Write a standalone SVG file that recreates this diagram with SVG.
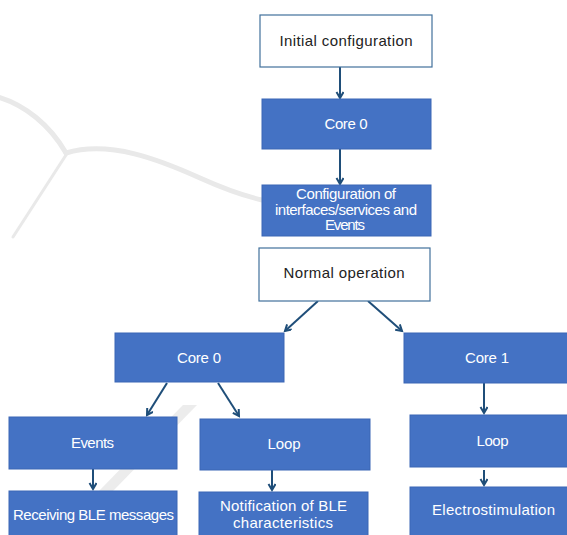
<svg xmlns="http://www.w3.org/2000/svg" width="567" height="535" viewBox="0 0 567 535">
  <defs>
    <style>
      .wml { fill: none; stroke: #e9e9e9; stroke-linecap: round; }
      .box { fill: #4472c4; stroke: #3b66b5; stroke-width: 1; }
      .wbox { fill: #ffffff; stroke: #41719c; stroke-width: 1.2; }
      .t { font-family: "Liberation Sans", Arial, sans-serif; font-size: 15px; text-anchor: middle; fill: #ffffff; }
      .tk { font-family: "Liberation Sans", Arial, sans-serif; font-size: 15px; text-anchor: middle; fill: #222222; }
      .c { fill: none; stroke: #1f4e79; stroke-width: 2; marker-end: url(#arr); }
    </style>
    <marker id="arr" markerUnits="userSpaceOnUse" markerWidth="10" markerHeight="10" refX="7" refY="4" orient="auto">
      <path d="M1,0.5 L7,4 L1,7.5" fill="none" stroke="#1f4e79" stroke-width="2"/>
    </marker>
  </defs>
  <rect width="567" height="535" fill="#ffffff"/>

  <g id="watermark">
    <path class="wml" stroke-width="5" d="M-2,97 C25,105 50,125 66,153"/>
    <path class="wml" stroke-width="5" d="M66,153 C110,140 160,160 200,178 C220,187 240,195 262,200"/>
    <path class="wml" stroke-width="3" d="M66,155 L13,237"/>
    <path d="M183,405 L197,405 L70,535 L56,535 Z" fill="#ececec"/>
  </g>

  <g id="connectors">
    <line class="c" x1="340" y1="67" x2="340" y2="98"/>
    <line class="c" x1="340" y1="149" x2="340" y2="184"/>
    <line class="c" x1="318" y1="301" x2="285" y2="331"/>
    <line class="c" x1="368" y1="301" x2="402" y2="331"/>
    <line class="c" x1="167" y1="383" x2="147" y2="415"/>
    <line class="c" x1="218" y1="383" x2="239" y2="416"/>
    <line class="c" x1="93" y1="469" x2="93" y2="489"/>
    <line class="c" x1="272" y1="470" x2="272" y2="490"/>
    <line class="c" x1="484" y1="383" x2="484" y2="413"/>
    <line class="c" x1="484" y1="470" x2="484" y2="485"/>
  </g>

  <g id="initial">
    <rect class="wbox" x="260" y="15" width="172" height="52"/>
    <text class="tk" x="346" y="46" textLength="133">Initial configuration</text>
  </g>
  <g id="core0-top">
    <rect class="box" x="262" y="99" width="169" height="50"/>
    <text class="t" x="346" y="129" textLength="43">Core 0</text>
  </g>
  <g id="config">
    <rect class="box" x="262" y="185" width="169" height="51"/>
    <text class="t" x="346" y="199" textLength="100">Configuration of</text>
    <text class="t" x="346" y="214.5" textLength="142">interfaces/services and</text>
    <text class="t" x="345" y="230" textLength="40">Events</text>
  </g>
  <g id="normal">
    <rect class="wbox" x="259" y="248" width="171" height="53"/>
    <text class="tk" x="344" y="278" textLength="121">Normal operation</text>
  </g>
  <g id="core0">
    <rect class="box" x="115" y="333" width="169" height="49"/>
    <text class="t" x="199" y="363" textLength="44">Core 0</text>
  </g>
  <g id="core1">
    <rect class="box" x="404" y="333" width="170" height="50"/>
    <text class="t" x="487" y="363" textLength="44">Core 1</text>
  </g>
  <g id="events">
    <rect class="box" x="9" y="417" width="168" height="52"/>
    <text class="t" x="92.5" y="448" textLength="43">Events</text>
  </g>
  <g id="loop-mid">
    <rect class="box" x="200" y="419" width="170" height="51"/>
    <text class="t" x="284" y="449" textLength="33">Loop</text>
  </g>
  <g id="loop-right">
    <rect class="box" x="410" y="415" width="164" height="52"/>
    <text class="t" x="492.5" y="446" textLength="32">Loop</text>
  </g>
  <g id="receiving">
    <rect class="box" x="9" y="491" width="168" height="52"/>
    <text class="t" x="93.5" y="520" textLength="161">Receiving BLE messages</text>
  </g>
  <g id="notification">
    <rect class="box" x="199" y="492" width="169" height="52"/>
    <text class="t" x="283.5" y="511" textLength="127">Notification of BLE</text>
    <text class="t" x="283" y="528" textLength="100">characteristics</text>
  </g>
  <g id="electro">
    <rect class="box" x="410" y="487" width="164" height="56"/>
    <text class="t" x="493.5" y="515" textLength="123">Electrostimulation</text>
  </g>
</svg>
